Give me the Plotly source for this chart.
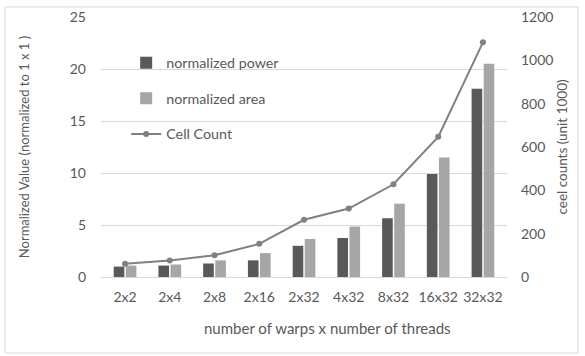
import plotly.graph_objects as go

categories = ["2x2", "2x4", "2x8", "2x16", "2x32", "4x32", "8x32", "16x32", "32x32"]
norm_power = [1.0, 1.1, 1.3, 1.6, 3.0, 3.75, 5.65, 9.9, 18.1]
norm_area = [1.1, 1.2, 1.6, 2.3, 3.65, 4.85, 7.05, 11.5, 20.5]
cell_count = [61, 76, 100, 153, 264, 316, 428, 647, 1083]

left_ticks = [0, 5, 10, 15, 20, 25]
right_ticks = [0, 200, 400, 600, 800, 1000, 1200]

FONT = "Lato, 'Open Sans', sans-serif"
TXT = "#595959"

fig = go.Figure()
fig.add_trace(go.Bar(x=categories, y=norm_power, name="normalized power",
                     marker=dict(color="#595959", line=dict(width=0)),
                     legendgroup="a"))
fig.add_trace(go.Bar(x=categories, y=norm_area, name="normalized area",
                     marker=dict(color="#a6a6a6", line=dict(width=0)),
                     legendgroup="b"))
fig.add_trace(go.Scatter(x=categories, y=cell_count, name="Cell Count", yaxis="y2",
                         mode="lines+markers",
                         line=dict(color="#808080", width=2),
                         marker=dict(color="#808080", size=6),
                         legendgroup="c"))

pw, ph = 406.0, 260.0

fig.update_layout(
    width=585, height=356,
    margin=dict(l=101, r=78, t=17, b=79, autoexpand=False),
    paper_bgcolor="white", plot_bgcolor="white",
    font=dict(family=FONT, size=14, color=TXT),
    barmode="group", bargap=0.46, bargroupgap=0.12,
    showlegend=True,
    legend=dict(x=0.062, y=0.885, xanchor="left", yanchor="top",
                bgcolor="rgba(0,0,0,0)", tracegroupgap=14,
                font=dict(size=14.3, color=TXT), itemwidth=30),
    xaxis=dict(showgrid=False, showline=True, linecolor="#d9d9d9", linewidth=1,
               ticks="", tickfont=dict(size=14, color=TXT), automargin=False,
               ticklabelstandoff=7),
    yaxis=dict(range=[0, 25], tickvals=left_ticks, showgrid=True, gridcolor="#d9d9d9",
               zeroline=False, showline=False, ticks="", ticklen=0, automargin=False,
               ticklabelstandoff=14,
               tickfont=dict(size=14, color=TXT),
               title=dict(text="Normalized Value (normalized to 1 x 1 )",
                          font=dict(size=13, color=TXT), standoff=37)),
    yaxis2=dict(range=[0, 1200], tickvals=right_ticks, overlaying="y", side="right",
                showgrid=False, zeroline=False, showline=False, ticks="", automargin=False,
                ticklabelstandoff=13,
                tickfont=dict(size=14, color=TXT),
                title=dict(text="ceel counts (unit 1000)",
                           font=dict(size=13.5, color=TXT), standoff=5)),
    annotations=[dict(text="number of warps x number of threads", xref="paper", yref="paper",
                      x=(327 - 101) / pw, y=(277 - 328) / ph, xanchor="center", yanchor="middle",
                      showarrow=False, font=dict(size=15, color=TXT))],
)

# outer chart border
fig.add_shape(type="rect", xref="paper", yref="paper",
              x0=(5 - 101) / pw, x1=(578 - 101) / pw,
              y0=(277 - 353) / ph, y1=(277 - 7) / ph,
              line=dict(color="#d9d9d9", width=1), fillcolor="rgba(0,0,0,0)", layer="below")

fig.write_html("out.html", config={"displayModeBar": False},
               post_script="document.body.style.margin='0';")
